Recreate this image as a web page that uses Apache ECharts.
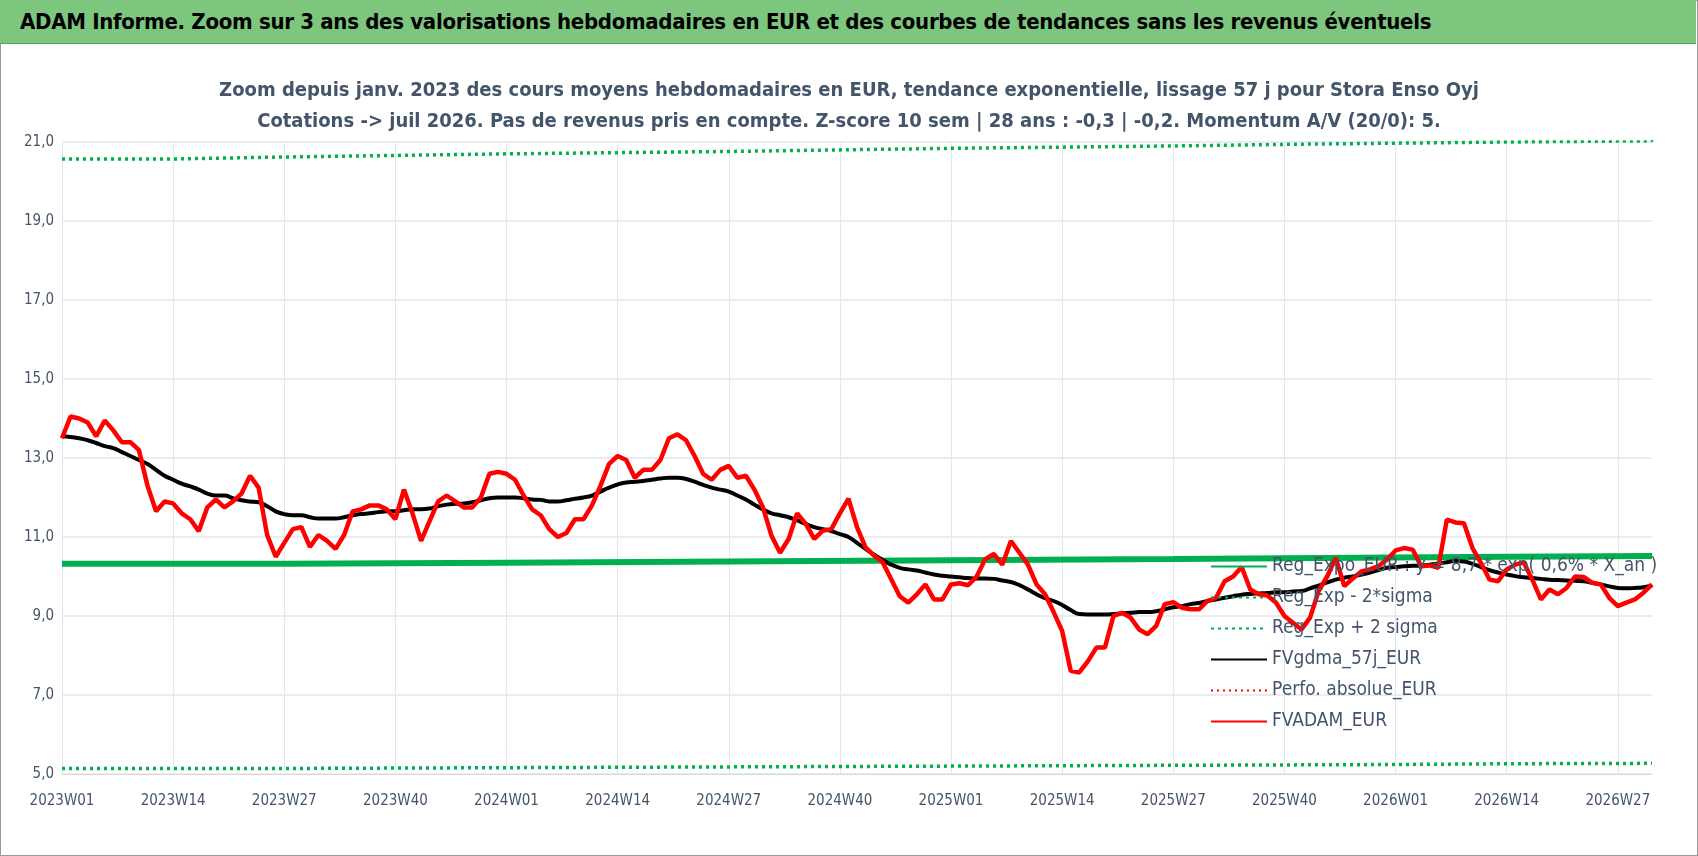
<!doctype html>
<html lang="fr">
<head>
  <meta charset="utf-8">
  <title>ADAM Informe</title>
  <script src="https://cdn.jsdelivr.net/npm/echarts@6/dist/echarts.min.js"></script>
  <style>
    html, body { margin: 0; padding: 0; background: #fff; }
    #frame { position: absolute; left: 0; top: 0; width: 1696px; height: 854px; border: 1px solid #9a9a9a; }
    #banner { position: absolute; left: 0; top: 0; width: 1696px; height: 44px; background: #7dc67d; border-bottom: 1px solid #5a9a5a;
      font-family: 'Liberation Sans Narrow', 'DejaVu Sans Condensed', sans-serif; font-weight: bold; font-size: 22px; line-height: 44px; padding-left: 20px; box-sizing: border-box; color: #000; letter-spacing: -0.3px; }
    #chart { position: absolute; left: 0; top: 0; width: 1698px; height: 856px; }
  </style>
</head>
<body>
  <div id="chart"></div>
  <div id="frame"></div>
  <div id="banner">ADAM Informe. Zoom sur 3 ans des valorisations hebdomadaires en EUR et des courbes de tendances sans les revenus éventuels</div>
  <script type="text/javascript">
    // weekly categories 2023W01 .. 2026W31
    const weeks = [];
    [2023, 2024, 2025, 2026].forEach(y => {
      const n = y === 2026 ? 31 : 52;
      for (let w = 1; w <= n; w++) weeks.push(y + 'W' + (w < 10 ? '0' + w : w));
    });

    const fvAdam = [13.5,14.05,14.0,13.9,13.55,13.95,13.7,13.4,13.4,13.2,12.3,11.65,11.9,11.85,11.6,11.45,11.15,11.75,11.95,11.75,
      11.9,12.1,12.55,12.25,11.05,10.5,10.85,11.2,11.25,10.75,11.05,10.9,10.7,11.05,11.65,11.7,11.8,11.8,11.7,11.45,
      12.2,11.6,10.9,11.4,11.9,12.05,11.9,11.75,11.75,12.0,12.6,12.65,12.6,12.45,12.05,11.7,11.55,11.2,11.0,11.1,
      11.45,11.45,11.8,12.3,12.85,13.05,12.95,12.5,12.7,12.7,12.95,13.5,13.6,13.45,13.05,12.6,12.45,12.7,12.8,12.5,
      12.55,12.2,11.75,11.03,10.6,10.95,11.6,11.33,10.95,11.16,11.2,11.6,11.97,11.25,10.74,10.53,10.36,9.93,9.5,9.34,
      9.55,9.8,9.42,9.42,9.8,9.83,9.78,10.0,10.44,10.57,10.3,10.9,10.6,10.3,9.8,9.55,9.1,8.62,7.61,7.57,
      7.85,8.2,8.2,9.0,9.08,8.96,8.66,8.54,8.75,9.3,9.35,9.21,9.17,9.17,9.38,9.46,9.88,10.0,10.24,9.67,
      9.55,9.52,9.34,9.0,8.83,8.66,8.96,9.63,10.0,10.47,9.76,9.95,10.13,10.18,10.26,10.43,10.66,10.72,10.68,10.26,
      10.28,10.22,11.44,11.37,11.35,10.72,10.34,9.92,9.88,10.18,10.3,10.36,9.92,9.42,9.67,9.55,9.71,10.0,9.99,9.84,
      9.8,9.46,9.25,9.34,9.42,9.59,9.8];

    const fvGdma = [13.55,13.53,13.5,13.45,13.38,13.3,13.25,13.15,13.05,12.95,12.85,12.7,12.55,12.45,12.35,12.28,12.2,12.1,12.05,12.05,
      11.98,11.93,11.9,11.88,11.78,11.65,11.58,11.55,11.55,11.5,11.47,11.47,11.47,11.5,11.55,11.58,11.6,11.63,11.65,11.65,
      11.68,11.7,11.7,11.72,11.78,11.82,11.84,11.85,11.88,11.93,11.98,12.0,12.0,12.0,11.98,11.95,11.94,11.9,11.9,11.93,
      11.97,12.0,12.05,12.15,12.25,12.33,12.38,12.4,12.42,12.45,12.48,12.5,12.5,12.47,12.4,12.32,12.25,12.2,12.15,12.05,
      11.95,11.82,11.7,11.6,11.55,11.5,11.42,11.33,11.25,11.2,11.15,11.07,11.0,10.85,10.7,10.55,10.42,10.3,10.22,10.18,
      10.15,10.1,10.05,10.02,10.0,9.98,9.96,9.95,9.95,9.94,9.9,9.86,9.78,9.67,9.55,9.45,9.38,9.28,9.15,9.05,
      9.04,9.04,9.04,9.05,9.07,9.08,9.1,9.1,9.12,9.17,9.22,9.25,9.3,9.33,9.38,9.42,9.46,9.5,9.54,9.56,
      9.57,9.58,9.6,9.6,9.62,9.63,9.7,9.77,9.85,9.92,9.97,10.0,10.05,10.1,10.16,10.22,10.24,10.26,10.27,10.28,
      10.3,10.33,10.36,10.39,10.38,10.32,10.24,10.16,10.1,10.05,10.01,9.98,9.96,9.94,9.92,9.91,9.9,9.89,9.88,9.84,
      9.8,9.75,9.71,9.7,9.71,9.73,9.77];

    // regression and sigma bands: [week, value] at each step
    const regExpo = [['2023W01',10.32],['2023W27',10.35],['2024W01',10.38],['2024W27',10.41],['2025W01',10.44],['2025W27',10.48],['2026W01',10.5],['2026W14',10.52],['2026W31',10.52]];
    const regMinus = [['2023W01',5.14],['2023W27',5.16],['2024W01',5.18],['2024W27',5.2],['2025W01',5.22],['2025W27',5.24],['2026W01',5.26],['2026W14',5.27],['2026W31',5.28]];
    const regPlus = [['2023W01',20.57],['2023W14',20.62],['2023W27',20.66],['2023W40',20.7],['2024W01',20.73],['2024W14',20.76],['2024W27',20.8],['2024W40',20.84],
      ['2025W01',20.87],['2025W14',20.9],['2025W27',20.94],['2025W40',20.97],['2026W01',21.0],['2026W14',21.03],['2026W31',21.06]];

    const narrow = "'Liberation Sans Narrow', 'DejaVu Sans Condensed', sans-serif";
    const chart = echarts.init(document.getElementById('chart'));
    chart.setOption({
      animation: false,
      title: {
        text: 'Zoom depuis janv. 2023 des cours moyens hebdomadaires en EUR, tendance exponentielle, lissage 57 j pour Stora Enso Oyj\nCotations -> juil 2026. Pas de revenus pris en compte. Z-score 10 sem | 28 ans : -0,3 | -0,2. Momentum A/V (20/0): 5.',
        left: 'center', top: 70,
        textStyle: { color: '#44546a', fontSize: 20, fontWeight: 'bold', fontFamily: narrow, lineHeight: 31 }
      },
      grid: { left: 62, right: 46, top: 142, bottom: 82 },
      legend: {
        orient: 'vertical', left: 1205, top: 552, itemGap: 12, itemWidth: 56, itemHeight: 12,
        itemStyle: { opacity: 0 },
        textStyle: { color: '#44546a', fontSize: 19, fontFamily: narrow },
        data: ['Reg_Expo_EUR : y = 8,7 * exp( 0,6% * X_an )', 'Reg_Exp - 2*sigma', 'Reg_Exp + 2 sigma', 'FVgdma_57j_EUR', 'Perfo. absolue_EUR', 'FVADAM_EUR']
      },
      xAxis: {
        type: 'category', data: weeks, boundaryGap: false,
        axisLine: { lineStyle: { color: '#d9d9d9' } },
        axisTick: { show: false },
        axisLabel: { interval: 12, color: '#44546a', fontSize: 15, fontFamily: narrow, margin: 20 },
        splitLine: { show: true, interval: 12, lineStyle: { color: '#e3e6ea' } }
      },
      yAxis: {
        type: 'value', min: 5, max: 21, interval: 2,
        axisLine: { show: false }, axisTick: { show: false },
        axisLabel: { color: '#44546a', fontSize: 15, fontFamily: narrow, formatter: v => v.toFixed(1).replace('.', ',') },
        splitLine: { lineStyle: { color: '#e3e6ea', width: 1.5 } }
      },
      series: [
        { name: 'Reg_Expo_EUR : y = 8,7 * exp( 0,6% * X_an )', type: 'line', step: 'end', data: regExpo, symbol: 'none', lineStyle: { color: '#00b050', width: 6 }, itemStyle: { color: '#00b050' } },
        { name: 'Reg_Exp - 2*sigma', type: 'line', step: 'end', data: regMinus, symbol: 'none', lineStyle: { color: '#00b050', width: 3.5, type: [3, 4] }, itemStyle: { color: '#00b050' } },
        { name: 'Reg_Exp + 2 sigma', type: 'line', step: 'end', data: regPlus, symbol: 'none', lineStyle: { color: '#00b050', width: 3.5, type: [3, 4] }, itemStyle: { color: '#00b050' } },
        { name: 'FVgdma_57j_EUR', type: 'line', data: fvGdma, symbol: 'none', smooth: true, lineStyle: { color: '#000', width: 4 }, itemStyle: { color: '#000' } },
        { name: 'Perfo. absolue_EUR', type: 'line', data: [], symbol: 'none', lineStyle: { color: '#ff0000', width: 3, type: [2, 4] }, itemStyle: { color: '#ff0000' } },
        { name: 'FVADAM_EUR', type: 'line', data: fvAdam, symbol: 'none', lineStyle: { color: '#ff0000', width: 4.5 }, itemStyle: { color: '#ff0000' } }
      ]
    });
  </script>
</body>
</html>
